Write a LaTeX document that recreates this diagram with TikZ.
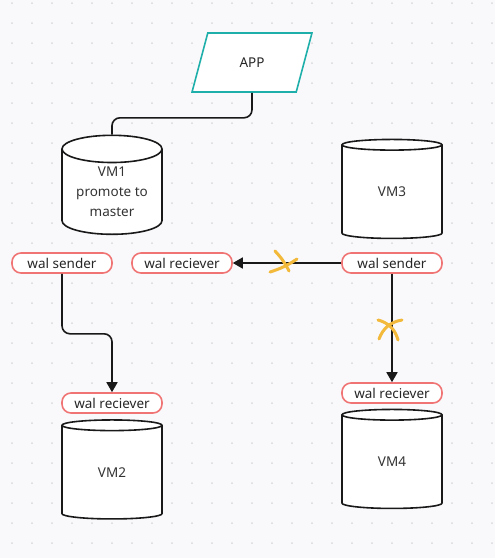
\documentclass[tikz,border=0pt]{standalone}
\usepackage{fontspec}
\setmainfont{Noto Sans}
\usetikzlibrary{shapes.geometric, positioning, arrows.meta, calc}
\definecolor{tealline}{HTML}{1FAFAA}
\definecolor{walred}{HTML}{F07474}
\definecolor{crossyellow}{HTML}{F2B93B}
\definecolor{inkgray}{HTML}{333333}
\definecolor{pagebg}{HTML}{F9F9FB}
\definecolor{griddot}{HTML}{D9D9DE}
\tikzstyle{db} = [cylinder,shape border rotate=90,aspect=0.38,draw=black!90,fill=white,line width=1.6pt,minimum width=100pt,minimum height=99pt,inner sep=0pt,align=center,text=inkgray]
\tikzstyle{walbox} = [draw=walred,fill=white,line width=1.6pt,rounded corners=9pt,minimum width=100pt,minimum height=20pt,inner sep=0pt,text=black!85]
\tikzstyle{arrow} = [line width=1.6pt,black!90,-{Triangle[width=11pt,length=10pt]}]
\tikzstyle{cross} = [line width=3pt,crossyellow,line cap=round]

\begin{document}
\begin{tikzpicture}[x=1pt,y=-1pt,node distance=20pt,on grid,font=\fontsize{13.5}{20}\selectfont]
    % background with dot grid
    \fill[pagebg] (0,0) rectangle (495,558);
    \foreach \i in {0,...,24}
        \foreach \j in {0,...,27}
            \fill[griddot] (12+20*\i,3+20*\j) circle (1pt);
    \useasboundingbox (0,0) rectangle (495,558);

    \node[trapezium,trapezium left angle=71,trapezium right angle=109,trapezium stretches=true,draw=tealline,fill=white,line width=1.6pt,minimum width=120pt,minimum height=59pt,text=black!85](app) at (252,62.5) {APP};
    \node[db](vm1) at (112,192) {VM1\\promote to\\master};
    \node[db](vm3) at (392,192) {VM3};
    \node[db](vm2) at (112,472.5) {VM2};
    \node[db](vm4) at (392,462) {VM4};

    \node[walbox](ws3) [below=71pt of vm3] {wal sender};
    \node[walbox](wr1) [left=210pt of ws3] {wal reciever};
    \node[walbox](ws1) [left=120pt of wr1] {wal sender};
    \node[walbox](wr4) [below=130pt of ws3] {wal reciever};
    \node[walbox](wr2) [above=69.5pt of vm2] {wal reciever};

    \draw[line width=1.6pt,black!90,rounded corners=8pt] (app.south) -- ++(0,25) -| (vm1.north);
    \draw[arrow,rounded corners=8pt] (ws1.south) -- ++(0,60) -| (wr2.north);
    \draw[arrow] (ws3.west) -- (wr1.east);
    \draw[arrow] (ws3.south) -- (wr4.north);

    % broken links
    \draw[cross] (275,251) to[bend left=8] (289,271);
    \draw[cross] (270,272) to[bend right=8] (297,259);
    \draw[cross] (378,320) to[bend left=30] (398,340);
    \draw[cross] (402,320) to[bend right=30] (379,339);
\end{tikzpicture}
\end{document}
